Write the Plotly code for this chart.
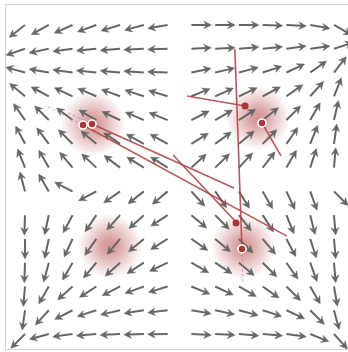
import numpy as np
import plotly.graph_objects as go

# ---- vector field: direction (degrees, counter-clockwise from +x) of the arrow
# anchored at each grid node, listed row by row from the top, per quadrant ----
angles_top_left = [
    [218, 209, 204, 200, 197, 195, 190],
    [199, 192, 188, 186, 185, 183, 182],
    [165, 170, 172, 174, 175, 176, 178],
    [140, 152, 155, 157, 160, 162, 163],
    [125, 135, 143, 150, 155, 157, 158],
    [118, 127, 135, 140, 146, 151, 151],
    [112, 120, 130, 137, 143, 148, 148],
]
angles_top_right = [
    [0, 0, 0, -2, -3, -10, -30],
    [3, 3, 5, 6, 8, 8, 18],
    [12, 13, 15, 18, 25, 35, 52],
    [22, 24, 25, 28, 35, 48, 68],
    [27, 30, 33, 38, 45, 60, 77],
    [32, 36, 40, 45, 55, 68, 82],
    [42, 44, 47, 52, 60, 72, 85],
]
angles_bottom_left = [
    [105, 120, 153, 208, 215, 218, 220],
    [268, 258, 242, 236, 228, 222, 213],
    [270, 258, 245, 235, 230, 220, 212],
    [268, 255, 240, 230, 222, 213, 205],
    [265, 240, 222, 213, 207, 200, 197],
    [262, 228, 207, 198, 193, 189, 187],
    [225, 195, 188, 185, 183, 182, 181],
]
angles_bottom_right = [
    [312, 305, 302, 300, 295, 290, 315],
    [320, 315, 308, 303, 292, 284, 275],
    [325, 320, 315, 310, 298, 288, 275],
    [330, 327, 320, 315, 305, 290, 275],
    [338, 335, 330, 325, 315, 300, 280],
    [350, 348, 345, 342, 335, 315, 285],
    [357, 357, 355, 355, 352, 338, 312],
]

# grid node coordinates (field units)
grid_x = [-6.5, -5.5, -4.5, -3.5, -2.5, -1.5, -0.5, 0.5, 1.5, 2.5, 3.5, 4.5, 5.5, 6.5]
grid_y = [6.5, 5.5, 4.5, 3.5, 2.5, 1.5, 0.5, -0.5, -1.5, -2.5, -3.5, -4.5, -5.5, -6.5]

# ---- density hot spots ----
spot_x = [-3.64, 3.30, -2.92, 2.69]
spot_y = [2.33, 2.59, -2.80, -2.83]

# ---- trajectories: solid segments, dashed back-extensions, end points ----
path_x0 = [-3.68, -4.06, -0.27, 2.33, 0.32, 3.47]
path_y0 = [2.33, 2.29, 1.03, 5.49, 3.51, 2.38]
path_x1 = [2.29, 4.52, 2.38, 2.63, 2.76, 4.27]
path_y1 = [-0.36, -2.38, -1.79, -2.92, 3.09, 0.99]

ext_x0 = [-5.53, -4.69, 2.63, 3.47]
ext_y0 = [3.05, 2.80, -2.92, 2.38]
ext_x1 = [-4.06, -3.68, 2.67, 3.14]
ext_y1 = [2.29, 2.33, -4.40, 2.95]

ring_x = [-4.06, -3.68, 3.47, 2.63]
ring_y = [2.29, 2.33, 2.38, -2.92]
dot_x = [2.76, 2.38]
dot_y = [3.09, -1.83]

# ---- geometry / style constants ----
PX = 23.77                     # pixels per field unit
ARROW_LEN = 20 / PX
HEAD_LEN = 7.5 / PX
HEAD_HALF = 3.8 / PX
NOTCH = 5.0 / PX
ARROW_COLOR = "#666666"
RED = "rgba(172,72,72,0.9)"
GLOW_SIZES = [62, 56, 50, 45, 40, 35, 31, 27, 23, 19, 15, 11]

# assemble the full angle grid
top = [l + r for l, r in zip(angles_top_left, angles_top_right)]
bottom = [l + r for l, r in zip(angles_bottom_left, angles_bottom_right)]
angle_grid = np.radians(np.array(top + bottom, dtype=float))

shaft_x, shaft_y, head_x, head_y = [], [], [], []
for j, gy in enumerate(grid_y):
    for i, gx in enumerate(grid_x):
        a = angle_grid[j, i]
        dx, dy = np.cos(a), np.sin(a)
        nx, ny = -dy, dx
        tx, ty = gx + ARROW_LEN * dx, gy + ARROW_LEN * dy
        shaft_x += [gx, tx - NOTCH * dx, None]
        shaft_y += [gy, ty - NOTCH * dy, None]
        bx, by = tx - HEAD_LEN * dx, ty - HEAD_LEN * dy
        head_x += [tx, bx + HEAD_HALF * nx, tx - NOTCH * dx, bx - HEAD_HALF * nx, tx, None]
        head_y += [ty, by + HEAD_HALF * ny, ty - NOTCH * dy, by - HEAD_HALF * ny, ty, None]

fig = go.Figure()

# soft red hot spots: stacked translucent discs build a smooth glow
for s in GLOW_SIZES:
    fig.add_trace(go.Scatter(
        x=spot_x, y=spot_y, mode="markers", hoverinfo="skip",
        marker=dict(size=s, color="rgba(180,70,70,0.06)", line=dict(width=0)),
    ))

# arrow shafts and heads
fig.add_trace(go.Scatter(
    x=shaft_x, y=shaft_y, mode="lines", hoverinfo="skip",
    line=dict(color=ARROW_COLOR, width=2),
))
fig.add_trace(go.Scatter(
    x=head_x, y=head_y, mode="lines", fill="toself", hoverinfo="skip",
    fillcolor=ARROW_COLOR, line=dict(color=ARROW_COLOR, width=0.5),
))

# dashed extensions
ex, ey = [], []
for a, b, c, d in zip(ext_x0, ext_y0, ext_x1, ext_y1):
    ex += [a, c, None]
    ey += [b, d, None]
fig.add_trace(go.Scatter(
    x=ex, y=ey, mode="lines", hoverinfo="skip",
    line=dict(color="rgba(205,130,130,0.7)", width=1, dash="3px,2px"),
))

# solid trajectory segments
px_, py_ = [], []
for a, b, c, d in zip(path_x0, path_y0, path_x1, path_y1):
    px_ += [a, c, None]
    py_ += [b, d, None]
fig.add_trace(go.Scatter(
    x=px_, y=py_, mode="lines", hoverinfo="skip",
    line=dict(color=RED, width=1.6),
))

# end points
fig.add_trace(go.Scatter(
    x=dot_x, y=dot_y, mode="markers", hoverinfo="skip",
    marker=dict(size=7, color="#a83838", line=dict(width=0)),
))
fig.add_trace(go.Scatter(
    x=ring_x, y=ring_y, mode="markers", hoverinfo="skip",
    marker=dict(size=8, color="#a83838", line=dict(width=1.5, color="white")),
))

axis_common = dict(showgrid=False, zeroline=False, showticklabels=False,
                   ticks="", showline=True, linecolor="#d4d4d4", linewidth=1)
fig.update_layout(
    width=348, height=352,
    margin=dict(l=6, r=0, t=5, b=3),
    paper_bgcolor="white", plot_bgcolor="white",
    showlegend=False,
    xaxis=dict(range=[-7.30, 7.09], mirror=True, **axis_common),
    yaxis=dict(range=[-7.13, 7.34], mirror=False, **axis_common),
)

fig.write_html("out.html")
